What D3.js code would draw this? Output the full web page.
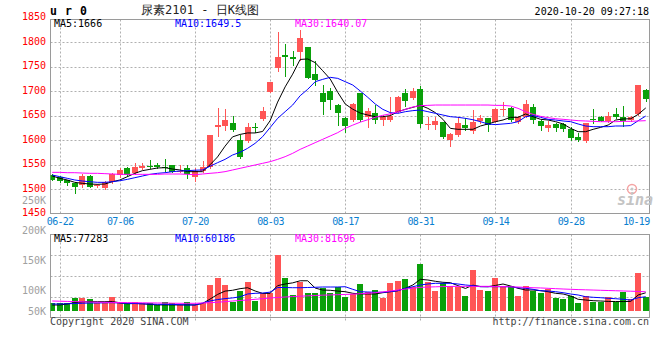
<!DOCTYPE html>
<html><head><meta charset="utf-8">
<script src="https://cdn.jsdelivr.net/npm/d3@7"></script>
<style>
html,body{margin:0;padding:0;background:#fff;}
svg{display:block;}
text{font-family:"DejaVu Sans Mono","Liberation Mono",monospace;}
</style></head><body>
<svg id="c" width="660" height="360"></svg>
<script>
const dates = ["06-19","06-22","06-23","06-24","06-29","06-30","07-01","07-02","07-03","07-06","07-07","07-08","07-09","07-10","07-13","07-14","07-15","07-16","07-17","07-20","07-21","07-22","07-23","07-24","07-27","07-28","07-29","07-30","07-31","08-03","08-04","08-05","08-06","08-07","08-10","08-11","08-12","08-13","08-14","08-17","08-18","08-19","08-20","08-21","08-24","08-25","08-26","08-27","08-28","08-31","09-01","09-02","09-03","09-04","09-07","09-08","09-09","09-10","09-11","09-14","09-15","09-16","09-17","09-18","09-21","09-22","09-23","09-24","09-25","09-28","09-29","09-30","10-09","10-12","10-13","10-14","10-15","10-16","10-19","10-20"];
const open = [1529,1526,1518,1512,1509,1528,1507,1503,1514,1529, 1544,1534,1544,1547,1550,1545,1549,1537,1544,1526, 1538,1546,1628,1629,1635,1601,1599,1627,1643,1699, 1747,1775,1770,1780,1790,1735,1696,1701,1672,1645, 1641,1696,1647,1655,1641,1641,1658,1697,1686,1705, 1632,1631,1638,1601,1611,1631,1618,1639,1645,1638, 1662,1665,1638,1648,1667,1639,1626,1633,1633,1624, 1606,1599,1644,1648,1639,1654,1648,1641,1654,1702];
const high = [1531,1527,1519,1514,1531,1529,1511,1516,1534,1543, 1546,1554,1553,1560,1554,1562,1550,1549,1550,1544, 1558,1611,1665,1664,1650,1611,1635,1636,1667,1719, 1822,1797,1783,1825,1790,1762,1712,1707,1675,1648, 1677,1697,1665,1672,1652,1688,1690,1705,1706,1711, 1647,1648,1638,1614,1647,1645,1662,1652,1646,1665, 1679,1667,1650,1682,1674,1641,1639,1636,1636,1628, 1614,1636,1664,1650,1657,1665,1669,1650,1712,1704];
const low = [1519,1514,1509,1492,1505,1504,1504,1501,1512,1526, 1528,1531,1541,1543,1544,1537,1535,1535,1524,1517, 1536,1543,1609,1621,1620,1564,1597,1616,1641,1699, 1742,1731,1754,1764,1727,1713,1654,1663,1631,1616, 1640,1640,1628,1636,1631,1640,1657,1670,1684,1628, 1623,1624,1605,1588,1609,1621,1614,1635,1618,1637, 1652,1640,1636,1647,1635,1621,1618,1618,1620,1601, 1599,1597,1635,1639,1638,1645,1629,1640,1652,1680];
const close = [1520,1516,1512,1505,1527,1505,1508,1514,1531,1540, 1529,1546,1548,1546,1546,1544,1536,1538,1531,1538, 1546,1611,1631,1641,1622,1565,1628,1626,1660,1719, 1769,1769,1765,1808,1728,1724,1679,1682,1655,1630, 1675,1641,1660,1641,1648,1650,1689,1681,1701,1633, 1633,1640,1606,1613,1636,1626,1638,1646,1631,1663, 1663,1641,1648,1674,1641,1630,1631,1626,1624,1604, 1601,1635,1643,1640,1650,1648,1639,1647,1712,1684];
const ma5 = [1527.1,1522.4,1519,1514.2,1512.2,1510.8,1510.1,1510.8,1515.5,1519, 1525.8,1532.6,1538,1540.7,1543.5,1544.1,1541.4,1539.4,1536,1536, 1536,1550,1566,1588,1607,1612,1615,1615,1618,1640, 1678,1709,1735,1765,1766,1758.5,1742,1725,1698,1674, 1663.5,1655.5,1651.6,1648.2,1648.2,1650.3,1658.4,1663.2,1667.3,1671.5, 1665.2,1656.4,1642.8,1624.4,1622.4,1622.4,1622.4,1629.2,1633.3,1638, 1641.4,1646.9,1646.9,1653.7,1648.2,1642.8,1641.4,1638,1633.3,1624.4, 1617.6,1617.6,1622.4,1626.4,1631.2,1641.4,1643.5,1644,1653,1666];
const ma10 = [1529.2,1525.8,1522.4,1519,1516.9,1515.5,1514.2,1514.2,1515.5,1517.5, 1520.3,1523.7,1527.1,1530.5,1532.6,1533.9,1536,1537.3,1538,1539, 1539.4,1547,1554.3,1561.1,1570,1575.5,1583.6,1593.8,1607.4,1626, 1644.8,1658.4,1672,1691,1704,1719.6,1724.4,1728.5,1726.4,1719.6, 1712.8,1700.6,1687.7,1674,1663.2,1656.4,1655,1658.4,1660.5,1661.8, 1658.4,1655,1651.6,1648.2,1646.9,1644.8,1642,1638,1633.3,1632, 1633.3,1634.6,1638,1648,1650.5,1646.9,1642.8,1641.4,1639.4,1638, 1633.3,1629.2,1627.8,1627.8,1627.8,1629.2,1629.2,1630,1640,1649.5];
const ma30 = [1534.6,1534.6,1533.9,1533.9,1533.2,1532.6,1532.6,1531.9,1531.2,1530.5, 1530.5,1530.5,1530.5,1530.5,1530.5,1531.2,1531.2,1531.2,1530.5,1529.8, 1531.2,1532.6,1533.9,1536,1539.4,1542.8,1546.2,1549.6,1553,1556.4, 1561.1,1566.6,1573.4,1581.5,1588.3,1595.2,1602,1608.8,1615.6,1624.4, 1631,1637,1642,1647,1651,1654,1658,1663,1668,1670.7, 1671.3,1672,1672,1672,1672,1672,1672,1672,1672,1671.3, 1671.3,1670,1665.2,1658.4,1653,1648.9,1646.2,1644.1,1642.8,1641.4, 1640.1,1639.4,1638.7,1638,1638,1638,1638.7,1638.7,1639.4,1640.07];
// volume in thousands (K)
const volumeK = [31.9,31.9,31.9,56,56,50.4,34.5,34.5,59,34.5, 31.9,38.8,34.5,31.9,24.6,38.8,31.9,24.6,36.2,24.6, 31.9,110.8,142.2,110.8,38.8,86.2,123.7,41.8,75,77.6, 240,142.2,67.7,122.4,77.6,77.6,99.1,77.6,100.9,60.3, 72,115.1,81.9,89.2,56,120.7,128,136.6,103.4,201.3, 123.7,84.9,120.7,107.8,103.4,63.4,175.4,89.2,84.9,142.2, 103.4,107.8,63.4,106.5,86.2,75,92.2,56,50.4,64.7, 31.9,63.4,38.8,38.8,57.8,38.8,81.9,49.1,163.8,57.8];
const volMa5K = [24.6,24.6,28.9,35.3,37.5,38.8,38.8,38.8,39.7,34, 30,31,30,27,25,25,25,25,25,25, 31,50,70,84.5,88,95,99,85,74.5,75, 108,115.1,120,129,129,97.6,89,88,84.5,81.9, 75,72,72,72,77.6,81.9,86.2,96.5,110.8,135.3, 132.3,126.7,122.4,120.7,108,96,110,104,103.4,109, 115,106.5,96.5,89.2,89.2,86.2,81.9,75,72,63.4, 49.1,46.1,43.1,41.8,40,39.5,39.5,40,67.7,77.3];
const volMa10K = [28.9,28.9,29.7,31,31.9,33.2,33.2,34,34.5,33.2, 31.9,31,29.7,28.9,27.6,27.6,26.7,25.9,24.6,24.6, 33,42,48,52,55,60,72,75,76,80, 100,100,99.1,99.1,100,100.9,102.1,102.1,102.1,103.4, 92.2,81.9,80.6,79.3,79.3,81.9,86.2,96.5,103.4,110.8, 115.1,118.1,118.1,118.1,115.1,110.8,107.8,103.4,103.4,103.4, 103.4,103.4,99.1,96.5,92.2,86.2,84.9,81.9,77.6,72, 67.7,60.3,57.8,56,53.4,51.7,49.1,46.1,56,60.2];
const volMa30K = [41.8,40.9,40.1,39.2,38.4,37.5,36.6,36.2,35.8,35.3, 34.9,34.5,34,33.6,33.2,32.8,32.3,31.9,31.9,31.9, 33.2,34.5,36.6,38.8,41.8,44,46.1,49.1,51.7,54.7, 57,59,61,62.5,64,65.5,67,68,69,70, 71.5,73,75,77.6,81,85,89,93,97,100.5, 102,103,104,104.5,105,105,105,105,105,104.5, 104,103,102,100.5,99,98,96.5,95,93.5,92.2, 91,90,89,88,87,86,85,84,83,81.7];
const priceTicks = [1850,1800,1750,1700,1650,1600,1550,1500,1450];
const priceGrid = [1800,1750,1700,1650,1600,1550,1500];
const volTickLabels = ["250K","200K","150K","100K","50K"];
const volTickValuesK = [250,200,150,100,50];
const dateTicks = ["06-22","07-06","07-20","08-03","08-17","08-31","09-14","09-28","10-19"];
const mainLegend = ["MA5:1666","MA10:1649.5","MA30:1640.07"];
const volLegend = ["MA5:77283","MA10:60186","MA30:81696"];
const legendColors = ["#000000","#0000ff","#ff00ff"];
const titleText = "尿素2101 - 日K线图";
const codeText = "u r 0";
const timeText = "2020-10-20 09:27:18";

const RED = "#ff5555", GREEN = "#0aa00a", GRID = "#b0b0b0", BORDER = "#9a9a9a";
const L = 50.5, R = 649.5, T1 = 19.5, B1 = 213.5, T2 = 234.5, B2 = 317.5, VBASE = 311;

const svg = d3.select("#c");
const x = d3.scaleBand().domain(d3.range(dates.length)).range([48.5, 649.5]);
const cx = i => x(i) + x.bandwidth() / 2;
const y = d3.scaleLinear().domain([1500, 1800]).range([189.3, 42.3]);
const yv = d3.scaleLinear().domain([0, 330]).range([310.7, 234.14]);
const yvLabel = d3.scaleLinear().domain([100, 150]).range([290, 260]);

const defs = svg.append("defs");
defs.append("clipPath").attr("id", "cm").append("rect").attr("x", L).attr("y", T1).attr("width", R - L).attr("height", B1 - T1);
defs.append("clipPath").attr("id", "cv").append("rect").attr("x", L).attr("y", T2).attr("width", R - L).attr("height", B2 - T2);

// grid
const g = svg.append("g").attr("stroke", GRID).attr("stroke-dasharray", "2,2").attr("stroke-width", 1);
priceGrid.forEach(p => {
  const yy = Math.round(y(p)) + 0.5;
  g.append("line").attr("x1", L).attr("x2", R).attr("y1", yy).attr("y2", yy);
});
for (let k = 1; k <= 3; k++) {
  const yy = Math.round(T2 + k * (B2 - T2) / 4) + 0.5;
  g.append("line").attr("x1", L).attr("x2", R).attr("y1", yy).attr("y2", yy);
}
dateTicks.slice(0, -1).forEach(t => {
  const xx = Math.round(cx(dates.indexOf(t))) + 0.5;
  g.append("line").attr("x1", xx).attr("x2", xx).attr("y1", T1).attr("y2", B1);
  g.append("line").attr("x1", xx).attr("x2", xx).attr("y1", T2).attr("y2", B2 + 3);
});

// borders
svg.append("rect").attr("x", L).attr("y", T1).attr("width", R - L).attr("height", B1 - T1).attr("fill", "none").attr("stroke", BORDER);
svg.append("rect").attr("x", L).attr("y", T2).attr("width", R - L).attr("height", B2 - T2).attr("fill", "none").attr("stroke", BORDER);

// watermark
const wm = svg.append("g");
wm.append("circle").attr("cx", 632).attr("cy", 189).attr("r", 4.5).attr("fill", "none").attr("stroke", "#f4a4a4").attr("stroke-width", 1.5);
wm.append("circle").attr("cx", 632).attr("cy", 189).attr("r", 1.5).attr("fill", "#c8c8c8");
wm.append("text").attr("x", 617).attr("y", 205).attr("font-family", "DejaVu Sans").attr("font-style", "italic").attr("font-weight", "bold").attr("font-size", 15).attr("fill", "#c4c4c4").text("sina");

// candles
const cg = svg.append("g").attr("clip-path", "url(#cm)");
dates.forEach((d, i) => {
  const up = close[i] >= open[i];
  const col = up ? RED : GREEN;
  const c = Math.round(cx(i));
  cg.append("line").attr("x1", c + 0.5).attr("x2", c + 0.5)
    .attr("y1", Math.round(y(high[i]))).attr("y2", Math.round(y(low[i])) + 1)
    .attr("stroke", col).attr("stroke-width", 1);
  const top = Math.round(y(Math.max(open[i], close[i])));
  const bot = Math.round(y(Math.min(open[i], close[i])));
  cg.append("rect").attr("x", c - 3).attr("y", top).attr("width", 6).attr("height", Math.max(1, bot - top)).attr("fill", col);
});
// MA lines main
[ma5, ma10, ma30].forEach((arr, k) => {
  cg.append("path").datum(arr)
    .attr("d", d3.line().x((v, i) => cx(i)).y(v => y(v)))
    .attr("fill", "none").attr("stroke", legendColors[k]).attr("stroke-width", 1);
});

// volume bars
const vg = svg.append("g").attr("clip-path", "url(#cv)");
volumeK.forEach((v, i) => {
  const col = close[i] >= open[i] ? RED : GREEN;
  const c = Math.round(cx(i));
  const top = Math.round(yv(v));
  vg.append("rect").attr("x", c - 3).attr("y", top).attr("width", 6).attr("height", Math.max(1, VBASE - top)).attr("fill", col);
});
[volMa5K, volMa10K, volMa30K].forEach((arr, k) => {
  vg.append("path").datum(arr)
    .attr("d", d3.line().x((v, i) => cx(i)).y(v => yv(v)))
    .attr("fill", "none").attr("stroke", legendColors[k]).attr("stroke-width", 1);
});

// price axis labels
priceTicks.forEach(p => {
  svg.append("text").attr("x", 46).attr("y", y(p) + 2.6).attr("text-anchor", "end")
    .attr("font-size", 10).attr("fill", "#ff0000").text(p);
});
// volume axis labels
volTickValuesK.forEach((v, k) => {
  svg.append("text").attr("x", 46).attr("y", Math.min(yvLabel(v), 311) + 3.6).attr("text-anchor", "end")
    .attr("font-size", 10).attr("fill", "#a0a0a0").text(volTickLabels[k]);
});
// date labels
dateTicks.forEach((t, k) => {
  const last = k === dateTicks.length - 1;
  svg.append("text").attr("x", last ? 649.5 : cx(dates.indexOf(t)) + 0.35).attr("y", 225)
    .attr("text-anchor", last ? "end" : "middle").attr("font-size", 10).attr("letter-spacing", -0.7)
    .attr("fill", "#0a80d0").text(t);
});
// legends
const legendX = [54, 175, 295];
mainLegend.forEach((s, k) => {
  svg.append("text").attr("x", legendX[k]).attr("y", 27).attr("font-size", 10).attr("fill", legendColors[k]).text(s);
});
volLegend.forEach((s, k) => {
  svg.append("text").attr("x", legendX[k]).attr("y", 242).attr("font-size", 10).attr("fill", legendColors[k]).text(s);
});
// header
svg.append("text").attr("x", 50).attr("y", 15).attr("font-family", "'DejaVu Serif', serif").attr("font-size", 11.5)
  .attr("font-weight", "bold").attr("letter-spacing", 0.6).attr("fill", "#000").text(codeText);
svg.append("text").attr("x", 200).attr("y", 13.5).attr("text-anchor", "middle").attr("font-family", "'Noto Sans CJK SC', sans-serif")
  .attr("font-size", 12).attr("fill", "#222").text(titleText);
svg.append("text").attr("x", 649).attr("y", 15).attr("text-anchor", "end").attr("font-size", 10).attr("fill", "#000").text(timeText);
// footer
svg.append("text").attr("x", 50).attr("y", 325).attr("font-size", 10).attr("fill", "#444").text("Copyright 2020 SINA.COM");
svg.append("text").attr("x", 649).attr("y", 325).attr("text-anchor", "end").attr("font-size", 10).attr("fill", "#444").text("http://finance.sina.com.cn");
</script>
</body></html>
